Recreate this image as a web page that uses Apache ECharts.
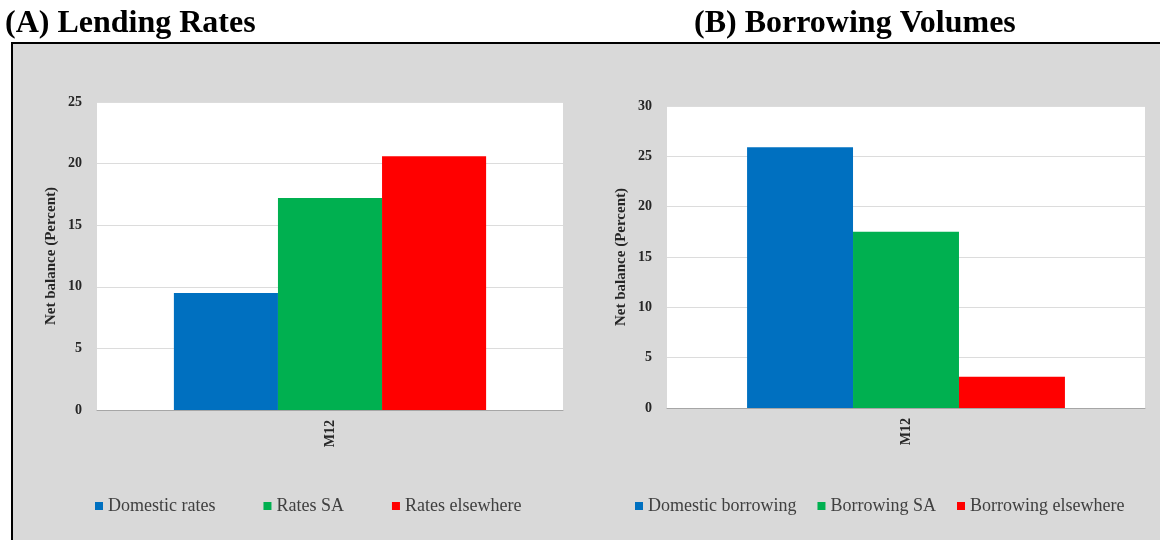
<!DOCTYPE html>
<html><head><meta charset="utf-8">
<script src="https://cdn.jsdelivr.net/npm/echarts@6/dist/echarts.min.js"></script>
<style>html,body{margin:0;padding:0;background:#fff}#c{width:1160px;height:540px}</style>
</head><body><div id="c"></div>
<script>
const categories = ['M12'];
const lendingNames = ['Domestic rates', 'Rates SA', 'Rates elsewhere'];
const lendingValues = [9.5, 17.2, 20.6];
const borrowingNames = ['Domestic borrowing', 'Borrowing SA', 'Borrowing elsewhere'];
const borrowingValues = [25.9, 17.5, 3.1];
const colors = ['#0070c0', '#00b050', '#ff0000'];
const leftTicks = {min: 0, max: 25, interval: 5};
const rightTicks = {min: 0, max: 30, interval: 5};

const serif = '"Liberation Serif", "Times New Roman", serif';
const chart = echarts.init(document.getElementById('c'), null, {renderer: 'canvas'});

function yAxis(idx, t) {
  return {
    type: 'value', gridIndex: idx, min: t.min, max: t.max, interval: t.interval,
    name: 'Net balance (Percent)', nameLocation: 'middle', nameGap: 38, nameRotate: 90,
    nameTextStyle: {fontFamily: serif, fontWeight: 'bold', fontSize: 15, color: '#262626'},
    axisLine: {show: false}, axisTick: {show: false},
    axisLabel: {fontFamily: serif, fontWeight: 'bold', fontSize: 14, color: '#262626', margin: 15},
    splitLine: {lineStyle: {color: '#dcdcdc', width: 1}}
  };
}
function xAxis(idx) {
  return {
    type: 'category', gridIndex: idx, data: categories,
    axisLine: {lineStyle: {color: '#a6a6a6', width: 1}}, axisTick: {show: false},
    axisLabel: {rotate: 90, fontFamily: serif, fontWeight: 'bold', fontSize: 14, color: '#262626', margin: 10}
  };
}
const series = [];
lendingNames.forEach((n, i) => series.push({
  type: 'bar', name: n, xAxisIndex: 0, yAxisIndex: 0, data: [lendingValues[i]],
  itemStyle: {color: colors[i]}, barGap: '0%', barCategoryGap: '33%'
}));
borrowingNames.forEach((n, i) => series.push({
  type: 'bar', name: n, xAxisIndex: 1, yAxisIndex: 1, data: [borrowingValues[i]],
  itemStyle: {color: colors[i]}, barGap: '0%', barCategoryGap: '33.5%'
}));
const legendStyle = {fontFamily: serif, fontSize: 18, color: '#404040'};
chart.setOption({
  animation: false,
  backgroundColor: '#ffffff',
  graphic: [
    {type: 'rect', z: -10, shape: {x: 12, y: 43, width: 1160, height: 520},
     style: {fill: '#d9d9d9', stroke: '#000', lineWidth: 2}},
    {type: 'text', left: 5, top: 8, style: {text: '(A) Lending Rates', font: 'bold 32px ' + serif, fill: '#000'}},
    {type: 'text', left: 694, top: 8, style: {text: '(B) Borrowing Volumes', font: 'bold 32px ' + serif, fill: '#000'}}
  ],
  legend: [
    {data: lendingNames, left: 90, top: 492, itemWidth: 8, itemHeight: 8, itemGap: 48, icon: 'rect', textStyle: legendStyle},
    {data: borrowingNames, left: 630, top: 492, itemWidth: 8, itemHeight: 8, itemGap: 21, icon: 'rect', textStyle: legendStyle}
  ],
  grid: [
    {left: 97, top: 102, width: 466, height: 308, backgroundColor: '#fff', show: true, borderWidth: 0},
    {left: 667, top: 106, width: 478, height: 302, backgroundColor: '#fff', show: true, borderWidth: 0}
  ],
  xAxis: [xAxis(0), xAxis(1)],
  yAxis: [yAxis(0, leftTicks), yAxis(1, rightTicks)],
  series: series
});
</script></body></html>
